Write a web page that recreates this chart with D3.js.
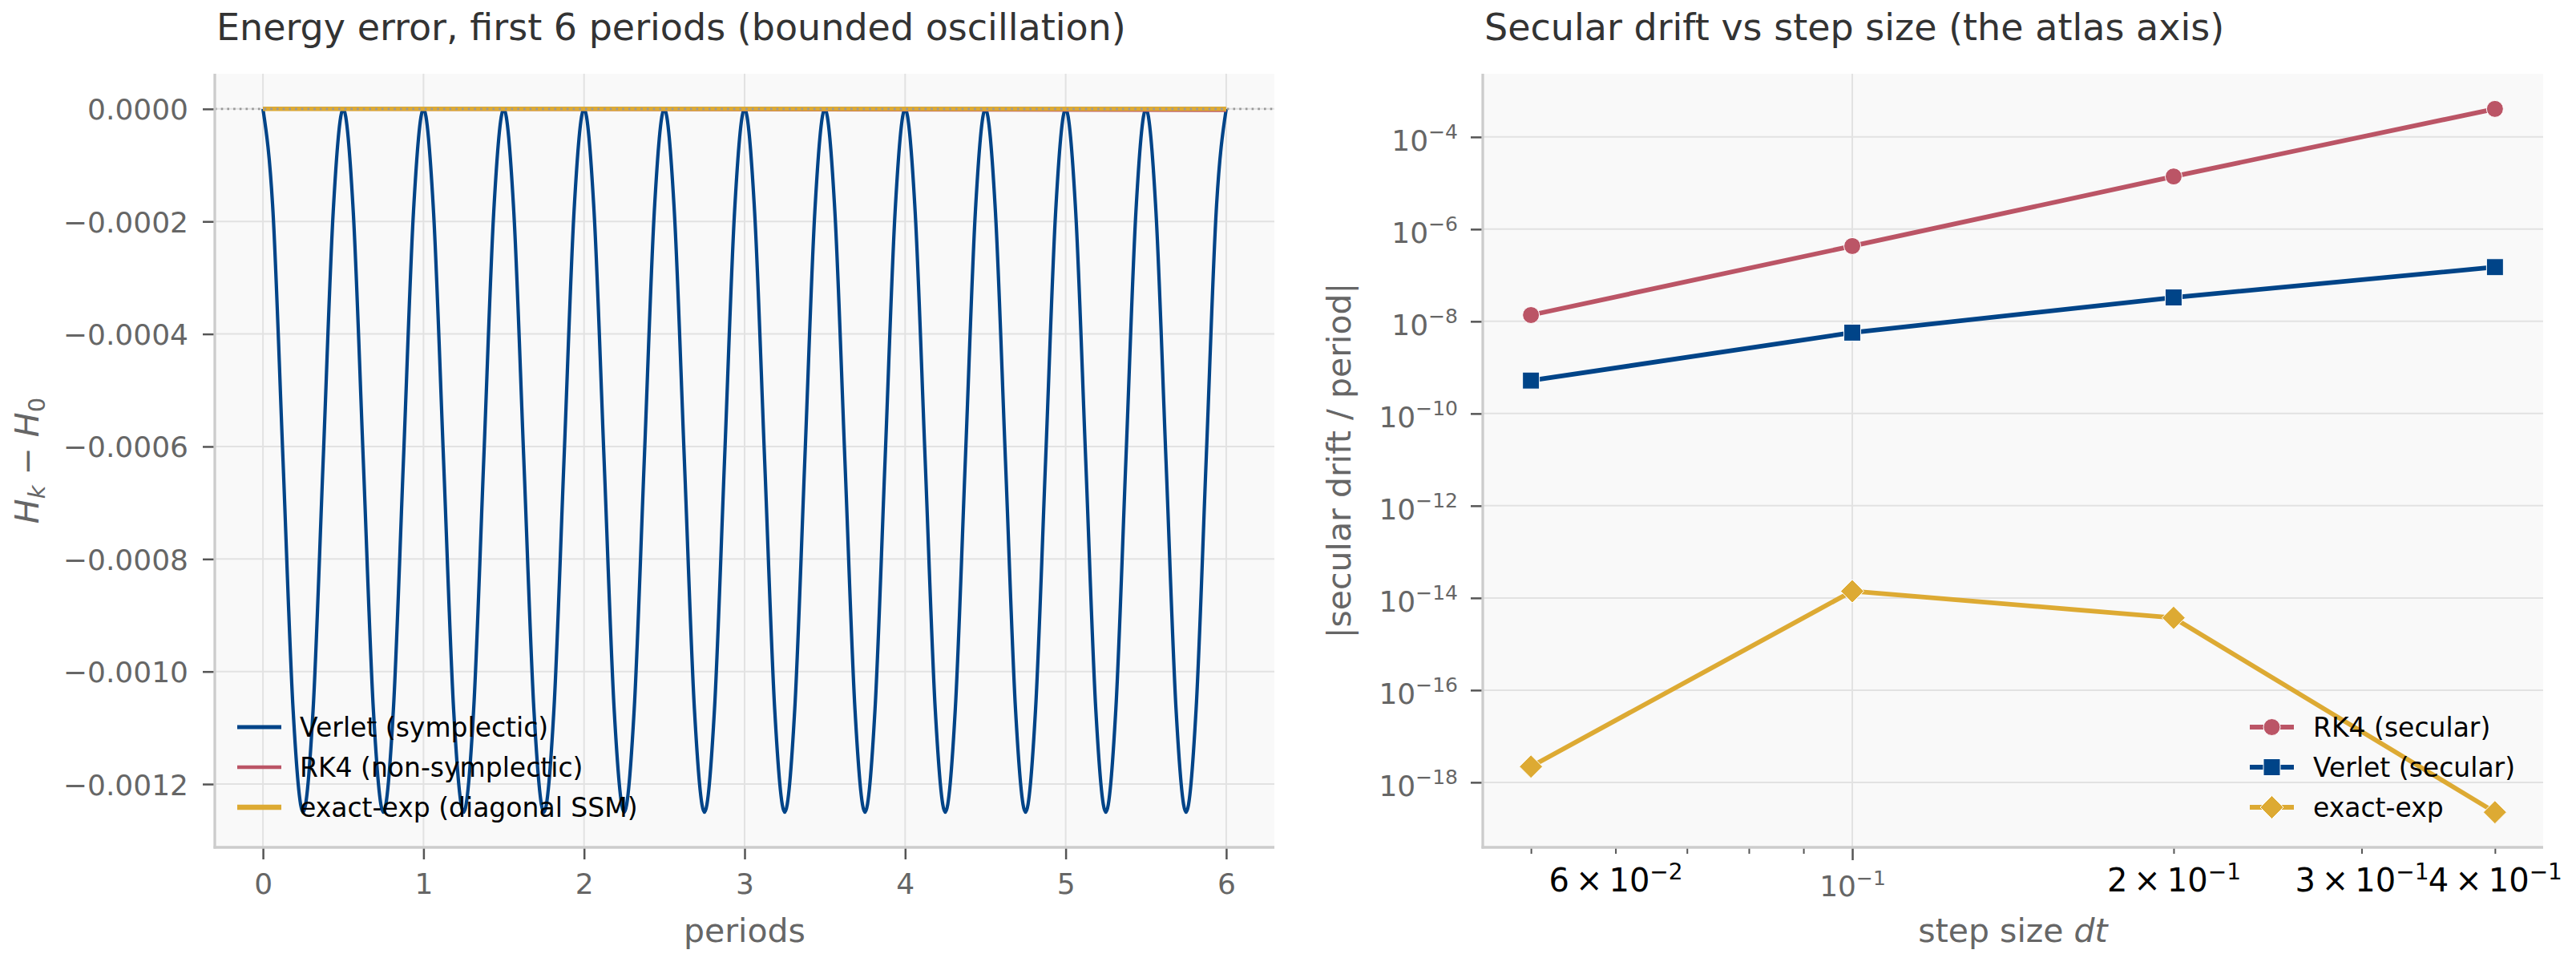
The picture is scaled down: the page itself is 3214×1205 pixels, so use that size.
<!DOCTYPE html>
<html><head><meta charset="utf-8">
<script src="https://cdn.jsdelivr.net/npm/d3@7"></script>
<style>
body{margin:0;background:#fff}
text{font-family:"DejaVu Sans",sans-serif}
</style>
</head><body>
<svg id="chart" width="3214" height="1205" xmlns="http://www.w3.org/2000/svg"></svg>
<script>
// ---------------- DATA ----------------
// Left panel: energy error H_k - H_0 vs periods
const periodsT = [
 0,0.0625,0.125,0.1875,0.25,0.3125,0.375,0.4375,
 0.5,0.5625,0.625,0.6875,0.75,0.8125,0.875,0.9375,
 1,1.0625,1.125,1.1875,1.25,1.3125,1.375,1.4375,
 1.5,1.5625,1.625,1.6875,1.75,1.8125,1.875,1.9375,
 2,2.0625,2.125,2.1875,2.25,2.3125,2.375,2.4375,
 2.5,2.5625,2.625,2.6875,2.75,2.8125,2.875,2.9375,
 3,3.0625,3.125,3.1875,3.25,3.3125,3.375,3.4375,
 3.5,3.5625,3.625,3.6875,3.75,3.8125,3.875,3.9375,
 4,4.0625,4.125,4.1875,4.25,4.3125,4.375,4.4375,
 4.5,4.5625,4.625,4.6875,4.75,4.8125,4.875,4.9375,
 5,5.0625,5.125,5.1875,5.25,5.3125,5.375,5.4375,
 5.5,5.5625,5.625,5.6875,5.75,5.8125,5.875,5.9375,
 6
];
const verletErr = [
 0,-1.83e-4,-6.25e-4,-1.067e-3,-1.25e-3,-1.067e-3,-6.25e-4,-1.83e-4,
 0,-1.83e-4,-6.25e-4,-1.067e-3,-1.25e-3,-1.067e-3,-6.25e-4,-1.83e-4,
 0,-1.83e-4,-6.25e-4,-1.067e-3,-1.25e-3,-1.067e-3,-6.25e-4,-1.83e-4,
 0,-1.83e-4,-6.25e-4,-1.067e-3,-1.25e-3,-1.067e-3,-6.25e-4,-1.83e-4,
 0,-1.83e-4,-6.25e-4,-1.067e-3,-1.25e-3,-1.067e-3,-6.25e-4,-1.83e-4,
 0,-1.83e-4,-6.25e-4,-1.067e-3,-1.25e-3,-1.067e-3,-6.25e-4,-1.83e-4,
 0,-1.83e-4,-6.25e-4,-1.067e-3,-1.25e-3,-1.067e-3,-6.25e-4,-1.83e-4,
 0,-1.83e-4,-6.25e-4,-1.067e-3,-1.25e-3,-1.067e-3,-6.25e-4,-1.83e-4,
 0,-1.83e-4,-6.25e-4,-1.067e-3,-1.25e-3,-1.067e-3,-6.25e-4,-1.83e-4,
 0,-1.83e-4,-6.25e-4,-1.067e-3,-1.25e-3,-1.067e-3,-6.25e-4,-1.83e-4,
 0,-1.83e-4,-6.25e-4,-1.067e-3,-1.25e-3,-1.067e-3,-6.25e-4,-1.83e-4,
 0,-1.83e-4,-6.25e-4,-1.067e-3,-1.25e-3,-1.067e-3,-6.25e-4,-1.83e-4,
 0
];
const rk4T = [0, 6];
const rk4Err = [0, -2.4e-6];
const exactT = [0, 6];
const exactErr = [0, 0];
const leftXTicks = [0, 1, 2, 3, 4, 5, 6];
const leftYTicks = [0, -0.0002, -0.0004, -0.0006, -0.0008, -0.0010, -0.0012];
const leftLegendLabels = ["Verlet (symplectic)", "RK4 (non-symplectic)", "exact-exp (diagonal SSM)"];

// Right panel: secular drift per period vs dt
const dtValues = [0.05, 0.1, 0.2, 0.4];
const rk4Drift = [1.37e-8, 4.3e-7, 1.39e-5, 4.06e-4];
const verletDrift = [5.2e-10, 5.7e-9, 3.3e-8, 1.5e-7];
const exactDrift = [2.2e-18, 1.4e-14, 3.7e-15, 2.25e-19];
const rightYTickExps = [-4, -6, -8, -10, -12, -14, -16, -18];
const rightXMajor = [0.1];
const rightXMinor = [0.05, 0.06, 0.07, 0.08, 0.09, 0.2, 0.3, 0.4];
const rightXMinorLabeled = [0.06, 0.2, 0.3, 0.4];
const rightLegendLabels = ["RK4 (secular)", "Verlet (secular)", "exact-exp"];

const C_BLUE = "#004488", C_RED = "#BB5566", C_YEL = "#DDAA33";

// ---------------- DRAW ----------------
const svg = d3.select("#chart");
svg.append("rect").attr("width",3214).attr("height",1205).attr("fill","#fff");
const FONT = "DejaVu Sans";

function styleAxis(g, size, color){
  g.attr("font-family", FONT).attr("font-size", size);
  g.select(".domain").remove();
  g.selectAll(".tick line").attr("stroke","#555").attr("stroke-width",2.5);
  g.selectAll(".tick text").attr("fill", color);
}
function marker(g, type, x, y, color){
  if(type==="circle") g.append("circle").attr("cx",x).attr("cy",y).attr("r",10.5).attr("fill",color).attr("stroke","#fff").attr("stroke-width",1);
  else if(type==="square") g.append("rect").attr("x",x-10.5).attr("y",y-10.5).attr("width",21).attr("height",21).attr("fill",color).attr("stroke","#fff").attr("stroke-width",1);
  else g.append("path").attr("d",`M${x},${y-14.5}L${x+14.5},${y}L${x},${y+14.5}L${x-14.5},${y}Z`).attr("fill",color).attr("stroke","#fff").attr("stroke-width",1);
}

// ===== LEFT PANEL =====
const L = {x0:268, x1:1590, y0:92, y1:1057};
const gl = svg.append("g");
gl.append("rect").attr("x",L.x0).attr("y",L.y0).attr("width",L.x1-L.x0).attr("height",L.y1-L.y0).attr("fill","#f9f9f9");

const tExt = d3.extent(periodsT), tPad = (tExt[1]-tExt[0])*0.05;
const xL = d3.scaleLinear().domain([tExt[0]-tPad, tExt[1]+tPad]).range([L.x0, L.x1]);
const eExt = d3.extent(verletErr.concat(rk4Err, exactErr)), ePad = (eExt[1]-eExt[0])*0.05;
const yL = d3.scaleLinear().domain([eExt[0]-ePad, eExt[1]+ePad]).range([L.y1, L.y0]);

gl.append("g").selectAll("line").data(leftXTicks).join("line")
  .attr("x1",d=>xL(d)).attr("x2",d=>xL(d)).attr("y1",L.y0).attr("y2",L.y1)
  .attr("stroke","#e2e2e2").attr("stroke-width",2);
gl.append("g").selectAll("line").data(leftYTicks).join("line")
  .attr("x1",L.x0).attr("x2",L.x1).attr("y1",d=>yL(d)).attr("y2",d=>yL(d))
  .attr("stroke","#e2e2e2").attr("stroke-width",2);

const lineL = (xs, ys, curve) => d3.line().x((d,i)=>xL(xs[i])).y(d=>yL(d)).curve(curve)(ys);
gl.append("path").attr("d", lineL(periodsT, verletErr, d3.curveMonotoneX)).attr("fill","none").attr("stroke",C_BLUE).attr("stroke-width",4.2).attr("stroke-linejoin","round");
gl.append("path").attr("d", lineL(rk4T, rk4Err, d3.curveLinear)).attr("fill","none").attr("stroke",C_RED).attr("stroke-width",4.2);
gl.append("path").attr("d", lineL(exactT, exactErr, d3.curveLinear)).attr("fill","none").attr("stroke",C_YEL).attr("stroke-width",5.5);
// dotted zero reference
gl.append("line").attr("x1",L.x0).attr("x2",L.x1).attr("y1",yL(0)).attr("y2",yL(0))
  .attr("stroke","#999").attr("stroke-width",2.6).attr("stroke-dasharray","2.6 5.1");

const axBL = gl.append("g").attr("transform",`translate(0,${L.y1})`)
  .call(d3.axisBottom(xL).tickValues(leftXTicks).tickSize(15).tickPadding(17).tickFormat(d3.format("d")));
styleAxis(axBL, 36, "#666");
const axLL = gl.append("g").attr("transform",`translate(${L.x0},0)`)
  .call(d3.axisLeft(yL).tickValues(leftYTicks).tickSize(15).tickPadding(18).tickFormat(d3.format(".4f")));
styleAxis(axLL, 36, "#666");
axLL.selectAll(".tick text").attr("dy","0.36em");

gl.append("line").attr("x1",L.x0).attr("x2",L.x0).attr("y1",L.y0).attr("y2",L.y1+1.5).attr("stroke","#ccc").attr("stroke-width",3.3);
gl.append("line").attr("x1",L.x0-1.5).attr("x2",L.x1).attr("y1",L.y1).attr("y2",L.y1).attr("stroke","#ccc").attr("stroke-width",3.3);

gl.append("text").attr("x",270).attr("y",50).attr("font-size",46).attr("fill","#333")
  .text("Energy error, first 6 periods (bounded oscillation)");
gl.append("text").attr("x",(L.x0+L.x1)/2).attr("y",1175).attr("text-anchor","middle").attr("font-size",41).attr("fill","#666").text("periods");
const yl = gl.append("text").attr("transform",`translate(48,${(L.y0+L.y1)/2}) rotate(-90)`)
  .attr("text-anchor","middle").attr("font-size",41).attr("fill","#666").style("white-space","pre");
yl.append("tspan").attr("font-style","italic").text("H");
yl.append("tspan").attr("font-style","italic").attr("font-size",29).attr("dy",8).text("k");
yl.append("tspan").attr("dy",-8).text(" \u2212 ");
yl.append("tspan").attr("font-style","italic").text("H");
yl.append("tspan").attr("font-size",29).attr("dy",8).text("0");

// left legend
const legL = gl.append("g");
const legLColors = [C_BLUE, C_RED, C_YEL], legLW = [5, 4.5, 6.5];
leftLegendLabels.forEach((lab,i)=>{
  const y = 907 + i*50;
  legL.append("line").attr("x1",296).attr("x2",351).attr("y1",y).attr("y2",y).attr("stroke",legLColors[i]).attr("stroke-width",legLW[i]);
  legL.append("text").attr("x",374).attr("y",y+12).attr("font-size",33).attr("fill","#000").text(lab);
});

// ===== RIGHT PANEL =====
const R = {x0:1850, x1:3173, y0:92, y1:1057};
const gr = svg.append("g");
gr.append("rect").attr("x",R.x0).attr("y",R.y0).attr("width",R.x1-R.x0).attr("height",R.y1-R.y0).attr("fill","#f9f9f9");

const lx = d3.extent(dtValues).map(Math.log10), lxPad = (lx[1]-lx[0])*0.05;
const xR = d3.scaleLog().domain([10**(lx[0]-lxPad), 10**(lx[1]+lxPad)]).range([R.x0, R.x1]);
const ly = d3.extent(rk4Drift.concat(verletDrift, exactDrift)).map(Math.log10), lyPad = (ly[1]-ly[0])*0.05;
const yR = d3.scaleLog().domain([10**(ly[0]-lyPad), 10**(ly[1]+lyPad)]).range([R.y1, R.y0]);
const yTickVals = rightYTickExps.map(e=>Math.pow(10,e));

gr.append("g").selectAll("line").data(rightXMajor).join("line")
  .attr("x1",d=>xR(d)).attr("x2",d=>xR(d)).attr("y1",R.y0).attr("y2",R.y1)
  .attr("stroke","#e2e2e2").attr("stroke-width",2);
gr.append("g").selectAll("line").data(yTickVals).join("line")
  .attr("x1",R.x0).attr("x2",R.x1).attr("y1",d=>yR(d)).attr("y2",d=>yR(d))
  .attr("stroke","#e2e2e2").attr("stroke-width",2);

const series = [
  {vals: rk4Drift, color: C_RED, m: "circle"},
  {vals: verletDrift, color: C_BLUE, m: "square"},
  {vals: exactDrift, color: C_YEL, m: "diamond"}
];
series.forEach(s=>{
  const g = gr.append("g");
  g.append("path").attr("d", d3.line().x((d,i)=>xR(dtValues[i])).y(d=>yR(d))(s.vals))
    .attr("fill","none").attr("stroke",s.color).attr("stroke-width",5.8).attr("stroke-linejoin","round");
  s.vals.forEach((v,i)=>marker(g, s.m, xR(dtValues[i]), yR(v), s.color));
});

// y axis
const axLR = gr.append("g").attr("transform",`translate(${R.x0},0)`)
  .call(d3.axisLeft(yR).tickValues(yTickVals).tickSize(15).tickPadding(16).tickFormat(()=>""));
styleAxis(axLR, 36, "#666");
axLR.selectAll(".tick text").each(function(d){
  const t = d3.select(this).attr("dy",null).attr("y",17);
  t.append("tspan").text("10");
  t.append("tspan").attr("font-size",25).attr("dy",-15).text("\u2212" + Math.abs(Math.round(Math.log10(d))));
});
// x axis: major
const axBR = gr.append("g").attr("transform",`translate(0,${R.y1})`)
  .call(d3.axisBottom(xR).tickValues(rightXMajor).tickSize(16).tickPadding(10).tickFormat(()=>""));
styleAxis(axBR, 36, "#666");
axBR.selectAll(".tick text").each(function(d){
  const t = d3.select(this).attr("dy",null).attr("y",61);
  const e = Math.round(Math.log10(d));
  t.append("tspan").text("10");
  t.append("tspan").attr("font-size",25).attr("dy",-14).text((e<0?"\u2212":"") + Math.abs(e));
});
// x axis: minor
const axBRm = gr.append("g").attr("transform",`translate(0,${R.y1})`)
  .call(d3.axisBottom(xR).tickValues(rightXMinor).tickSize(8).tickPadding(10).tickFormat(()=>""));
styleAxis(axBRm, 40, "#000");
axBRm.selectAll(".tick line").attr("stroke-width",2);
axBRm.selectAll(".tick text").each(function(d){
  if(!rightXMinorLabeled.includes(d)) return;
  const e = Math.floor(Math.log10(d) + 1e-9);
  const m = Math.round(d / Math.pow(10,e));
  const t = d3.select(this).attr("dy",null).attr("y",55);
  t.append("tspan").text(m + "\u2009\u00d7\u200910");
  t.append("tspan").attr("font-size",28).attr("dy",-15).text((e<0?"\u2212":"") + Math.abs(e));
});

gr.append("line").attr("x1",R.x0).attr("x2",R.x0).attr("y1",R.y0).attr("y2",R.y1+1.5).attr("stroke","#ccc").attr("stroke-width",3.3);
gr.append("line").attr("x1",R.x0-1.5).attr("x2",R.x1).attr("y1",R.y1).attr("y2",R.y1).attr("stroke","#ccc").attr("stroke-width",3.3);

gr.append("text").attr("x",1852).attr("y",50).attr("font-size",46).attr("fill","#333")
  .text("Secular drift vs step size (the atlas axis)");
const xlR = gr.append("text").attr("x",(R.x0+R.x1)/2).attr("y",1175).attr("text-anchor","middle").attr("font-size",41).attr("fill","#666").style("white-space","pre");
xlR.append("tspan").text("step size ");
xlR.append("tspan").attr("font-style","italic").text("dt");
gr.append("text").attr("transform",`translate(1685,${(R.y0+R.y1)/2}) rotate(-90)`)
  .attr("text-anchor","middle").attr("font-size",41).attr("fill","#666").text("|secular drift / period|");

// right legend
const legR = gr.append("g");
series.forEach((s,i)=>{
  const y = 907 + i*50;
  legR.append("line").attr("x1",2807).attr("x2",2862).attr("y1",y).attr("y2",y).attr("stroke",s.color).attr("stroke-width",5.8);
  marker(legR, s.m, 2834.5, y, s.color);
  legR.append("text").attr("x",2886).attr("y",y+12).attr("font-size",33).attr("fill","#000").text(rightLegendLabels[i]);
});
</script>
</body></html>
